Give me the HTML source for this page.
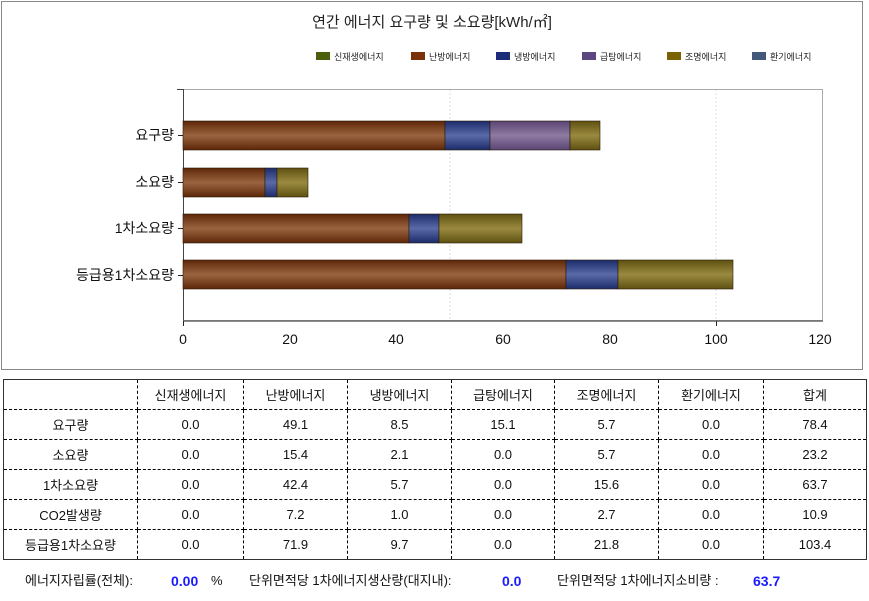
<!DOCTYPE html>
<html><head><meta charset="utf-8"><style>
body{margin:0;width:869px;height:601px;overflow:hidden;background:#fff;font-family:"Liberation Sans","Noto Sans CJK KR",sans-serif;}
svg{position:absolute;left:0;top:0}
table{position:absolute;left:3px;top:379px;border-collapse:collapse;font-size:13px;color:#111;border:1px solid #333}
td{border:1px dashed #000;height:29px;padding:0;text-align:center}
.ft{position:absolute;top:573px;font-size:13px;line-height:16px;color:#111;white-space:nowrap}
.b{color:#1a1aff;font-weight:bold;font-size:14px}
</style></head><body>
<svg width="869" height="375" xmlns="http://www.w3.org/2000/svg">
<defs>
<linearGradient id="gh" x1="0" y1="0" x2="0" y2="1"><stop offset="0" stop-color="#5e2608"/><stop offset="0.5" stop-color="#9a6440"/><stop offset="1" stop-color="#5e2608"/></linearGradient>
<linearGradient id="gc" x1="0" y1="0" x2="0" y2="1"><stop offset="0" stop-color="#1c2c6a"/><stop offset="0.5" stop-color="#5a6aa8"/><stop offset="1" stop-color="#1c2c6a"/></linearGradient>
<linearGradient id="gw" x1="0" y1="0" x2="0" y2="1"><stop offset="0" stop-color="#5a4474"/><stop offset="0.5" stop-color="#8e7aa2"/><stop offset="1" stop-color="#5a4474"/></linearGradient>
<linearGradient id="gl" x1="0" y1="0" x2="0" y2="1"><stop offset="0" stop-color="#5e5010"/><stop offset="0.5" stop-color="#9a8a40"/><stop offset="1" stop-color="#5e5010"/></linearGradient>
</defs>
<rect x="1.5" y="1.5" width="861" height="368" fill="#fff" stroke="#888"/>
<text x="432" y="27" text-anchor="middle" font-size="15" fill="#222">연간 에너지 요구량 및 소요량[kWh/㎡]</text>
<g font-size="9" fill="#222">
<rect x="316" y="52" width="14" height="8" fill="#4a5e0c"/><text x="334" y="60">신재생에너지</text>
<rect x="411" y="52" width="14" height="8" fill="#7a3208"/><text x="429" y="60">난방에너지</text>
<rect x="496" y="52" width="14" height="8" fill="#1c2c78"/><text x="514" y="60">냉방에너지</text>
<rect x="582" y="52" width="14" height="8" fill="#5e4680"/><text x="600" y="60">급탕에너지</text>
<rect x="667" y="52" width="14" height="8" fill="#7a6200"/><text x="685" y="60">조명에너지</text>
<rect x="752" y="52" width="14" height="8" fill="#44587a"/><text x="770" y="60">환기에너지</text>
</g>
<line x1="450" y1="89" x2="450" y2="321" stroke="#ddd" stroke-dasharray="2,2"/>
<line x1="716" y1="89" x2="716" y2="321" stroke="#ddd" stroke-dasharray="2,2"/>
<rect x="183.5" y="89.5" width="639" height="231" fill="none" stroke="#aaa"/>
<line x1="183.5" y1="89" x2="183.5" y2="322" stroke="#444"/>
<line x1="183" y1="321" x2="823" y2="321" stroke="#666" stroke-width="1.5"/>
<line x1="177" y1="89.5" x2="183" y2="89.5" stroke="#444"/>
<g stroke="#222">
<line x1="178" y1="135.5" x2="183" y2="135.5"/><line x1="178" y1="182.5" x2="183" y2="182.5"/><line x1="178" y1="228.5" x2="183" y2="228.5"/><line x1="178" y1="275.5" x2="183" y2="275.5"/>
<line x1="183.5" y1="321" x2="183.5" y2="326"/><line x1="716.5" y1="321" x2="716.5" y2="326"/>
</g>
<g font-size="14" fill="#111" text-anchor="end">
<text x="174" y="140">요구량</text><text x="174" y="187">소요량</text><text x="174" y="233">1차소요량</text><text x="174" y="280">등급용1차소요량</text>
</g>
<g font-size="14" fill="#111" text-anchor="middle">
<text x="183" y="344">0</text><text x="290" y="344">20</text><text x="396" y="344">40</text><text x="503" y="344">60</text><text x="610" y="344">80</text><text x="716" y="344">100</text><text x="820" y="344">120</text>
</g>
<g stroke="#2a1a08" stroke-width="0.6">
<rect x="183" y="121" width="262" height="29" fill="url(#gh)"/>
<rect x="445" y="121" width="45" height="29" fill="url(#gc)"/>
<rect x="490" y="121" width="80" height="29" fill="url(#gw)"/>
<rect x="570" y="121" width="30" height="29" fill="url(#gl)"/>
<rect x="183" y="168" width="82" height="29" fill="url(#gh)"/>
<rect x="265" y="168" width="12" height="29" fill="url(#gc)"/>
<rect x="277" y="168" width="31" height="29" fill="url(#gl)"/>
<rect x="183" y="214" width="226" height="29" fill="url(#gh)"/>
<rect x="409" y="214" width="30" height="29" fill="url(#gc)"/>
<rect x="439" y="214" width="83" height="29" fill="url(#gl)"/>
<rect x="183" y="260" width="383" height="29" fill="url(#gh)"/>
<rect x="566" y="260" width="52" height="29" fill="url(#gc)"/>
<rect x="618" y="260" width="115" height="29" fill="url(#gl)"/>
</g>
</svg>
<table>
<tr><td style="width:133px"></td><td style="width:105px">신재생에너지</td><td style="width:103px">난방에너지</td><td style="width:103px">냉방에너지</td><td style="width:102px">급탕에너지</td><td style="width:103px">조명에너지</td><td style="width:104px">환기에너지</td><td style="width:102px">합계</td></tr>
<tr><td>요구량</td><td>0.0</td><td>49.1</td><td>8.5</td><td>15.1</td><td>5.7</td><td>0.0</td><td>78.4</td></tr>
<tr><td>소요량</td><td>0.0</td><td>15.4</td><td>2.1</td><td>0.0</td><td>5.7</td><td>0.0</td><td>23.2</td></tr>
<tr><td>1차소요량</td><td>0.0</td><td>42.4</td><td>5.7</td><td>0.0</td><td>15.6</td><td>0.0</td><td>63.7</td></tr>
<tr><td>CO2발생량</td><td>0.0</td><td>7.2</td><td>1.0</td><td>0.0</td><td>2.7</td><td>0.0</td><td>10.9</td></tr>
<tr><td>등급용1차소요량</td><td>0.0</td><td>71.9</td><td>9.7</td><td>0.0</td><td>21.8</td><td>0.0</td><td>103.4</td></tr>
</table>
<div class="ft" style="left:25px">에너지자립률(전체):</div>
<div class="ft b" style="left:171px">0.00</div><div class="ft" style="left:211px">%</div>
<div class="ft" style="left:249px">단위면적당 1차에너지생산량(대지내):</div>
<div class="ft b" style="left:502px">0.0</div>
<div class="ft" style="left:557px">단위면적당 1차에너지소비량 :</div>
<div class="ft b" style="left:753px">63.7</div>
</body></html>
